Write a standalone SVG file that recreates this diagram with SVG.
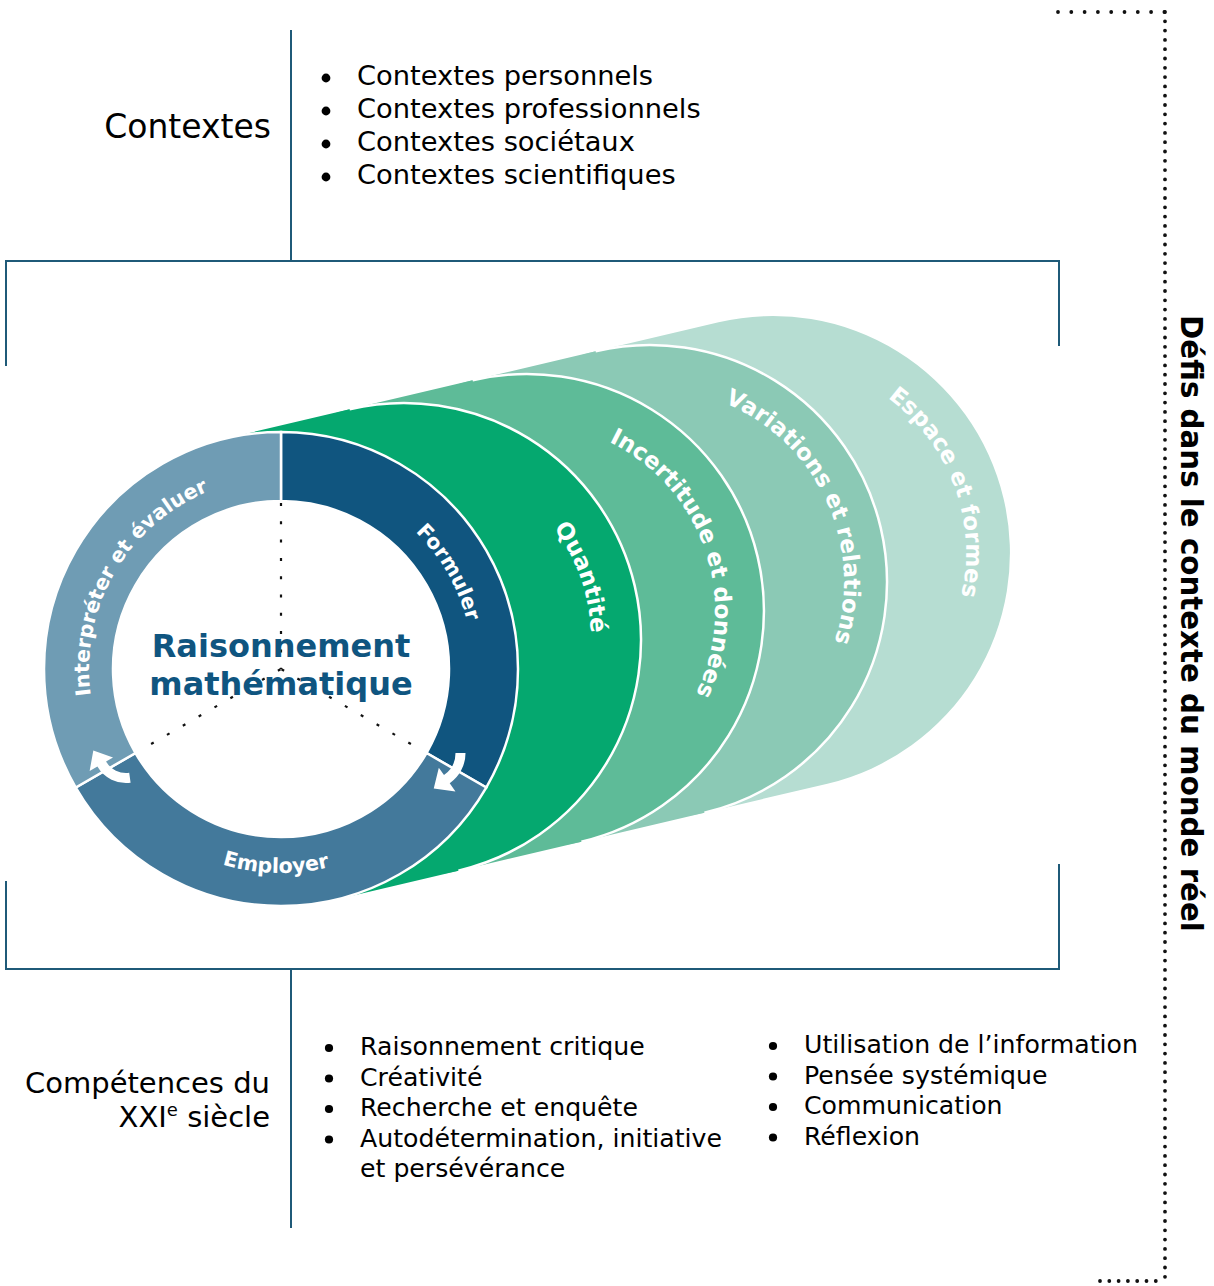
<svg xmlns="http://www.w3.org/2000/svg" width="1214" height="1286" viewBox="0 0 1214 1286">
<defs>
<style>
text{font-family:"DejaVu Sans","Liberation Sans",sans-serif;}
.frame{fill:none;stroke:#1F5A78;stroke-width:2;}
.hd{font-size:33px;fill:#000;}
.lt{font-size:27.3px;fill:#000;}
.cp{font-size:29px;fill:#000;}
.lb{font-size:25.2px;fill:#000;}
.bul{fill:#000;}
.side{font-size:29.3px;font-weight:bold;fill:#000;}
.ctr{font-size:32px;font-weight:bold;fill:#0F5580;text-anchor:middle;}
.rl{font-size:20.5px;font-weight:bold;fill:#fff;}
.ll{font-size:23px;font-weight:bold;fill:#fff;}
.seg{stroke:#fff;stroke-width:2.5;stroke-linejoin:miter;}
.edge{fill:none;stroke:#fff;stroke-width:2.5;}
.dots{fill:none;stroke:#111;stroke-width:2.2;stroke-dasharray:3 15.3;}
.dotb{fill:none;stroke:#111;stroke-width:3.8;stroke-linecap:round;}
.arrow{fill:#fff;}
</style>
<path id="tp-form" d="M 281 477 A 192 192 0 0 1 447.28 765"/>
<path id="tp-int" d="M 114.72 765 A 192 192 0 0 1 281 477"/>
<path id="tp-emp" d="M 104.33 771 A 204 204 0 0 0 457.67 771"/>
<path id="tp-q" d="M 373.14 455.56 A 187 187 0 0 1 496.08 802.76"/>
<path id="tp-i" d="M 497.59 425.31 A 188 188 0 0 1 618.14 775.43"/>
<path id="tp-v" d="M 600.77 394.35 A 194 194 0 0 1 760.44 741.5"/>
<path id="tp-e" d="M 738.49 363.11 A 193 193 0 0 1 870.37 719.64"/>
</defs>

<g id="connectors">
<path class="frame" d="M 291 30 V 261"/>
<path class="frame" d="M 6 366 V 261 H 1059 V 346"/>
<path class="frame" d="M 6 881 V 969 H 1059 V 864"/>
<path class="frame" d="M 291 969 V 1228"/>
<path class="dotb" stroke-dasharray="0 13.3" d="M 1058 12 H 1165"/>
<path class="dotb" stroke-dasharray="0 9.3" d="M 1165 12 V 1281"/>
<path class="dotb" stroke-dasharray="0 9.3" d="M 1100 1281 H 1165"/>
</g>

<g id="contextes">
<text class="hd" x="271" y="138" text-anchor="end">Contextes</text>
</g>
<g id="contextes-list">
<circle class="bul" cx="326" cy="78" r="4.4"/>
<circle class="bul" cx="326" cy="111" r="4.4"/>
<circle class="bul" cx="326" cy="144" r="4.4"/>
<circle class="bul" cx="326" cy="177" r="4.4"/>
<text class="lt" x="357" y="85">Contextes personnels</text>
<text class="lt" x="357" y="118">Contextes professionnels</text>
<text class="lt" x="357" y="151">Contextes sociétaux</text>
<text class="lt" x="357" y="184">Contextes scientifiques</text>
</g>

<g id="layer-espace">
<path fill="#B6DDD2" d="M 595.61 351.32 L 718.61 322.32 A 237 237 0 0 1 827.39 783.68 L 704.39 812.68 A 237 237 0 0 1 595.61 351.32 Z"/>
<text class="ll"><textPath href="#tp-e" startOffset="50%" text-anchor="middle">Espace et formes</textPath></text>
</g>
<g id="layer-variations">
<path fill="#8BC9B5" d="M 472.61 380.32 L 595.61 351.32 A 237 237 0 0 1 704.39 812.68 L 581.39 841.68 A 237 237 0 0 1 472.61 380.32 Z"/>
<path class="edge" d="M 595.61 351.32 A 237 237 0 0 1 704.39 812.68"/>
<text class="ll"><textPath href="#tp-v" startOffset="50%" text-anchor="middle">Variations et relations</textPath></text>
</g>
<g id="layer-incertitude">
<path fill="#5EBB98" d="M 349.61 409.32 L 472.61 380.32 A 237 237 0 0 1 581.39 841.68 L 458.39 870.68 A 237 237 0 0 1 349.61 409.32 Z"/>
<path class="edge" d="M 472.61 380.32 A 237 237 0 0 1 581.39 841.68"/>
<text class="ll"><textPath href="#tp-i" startOffset="50%" text-anchor="middle">Incertitude et données</textPath></text>
</g>
<g id="layer-quantite">
<path fill="#05A86F" d="M 226.61 438.32 L 349.61 409.32 A 237 237 0 0 1 458.39 870.68 L 335.39 899.68 A 237 237 0 0 1 226.61 438.32 Z"/>
<path class="edge" d="M 349.61 409.32 A 237 237 0 0 1 458.39 870.68"/>
<text class="ll"><textPath href="#tp-q" startOffset="50%" text-anchor="middle">Quantité</textPath></text>
</g>

<g id="ring">
<circle cx="281" cy="669" r="168" fill="#fff"/>
<g id="ring-formuler">
<path class="seg" fill="#10557F" d="M 281 432 A 237 237 0 0 1 486.25 787.5 L 426.49 753 A 168 168 0 0 0 281 501 Z"/>
<text class="rl"><textPath href="#tp-form" startOffset="50%" text-anchor="middle">Formuler</textPath></text>
</g>
<g id="ring-employer">
<path class="seg" fill="#43799B" d="M 486.25 787.5 A 237 237 0 0 1 75.75 787.5 L 135.51 753 A 168 168 0 0 0 426.49 753 Z"/>
<text class="rl"><textPath href="#tp-emp" startOffset="48.8%" text-anchor="middle">Employer</textPath></text>
</g>
<g id="ring-interpreter">
<path class="seg" fill="#6F9CB4" d="M 75.75 787.5 A 237 237 0 0 1 281 432 L 281 501 A 168 168 0 0 0 135.51 753 Z"/>
<text class="rl"><textPath href="#tp-int" startOffset="50%" text-anchor="middle">Interpréter et évaluer</textPath></text>
</g>
<g id="ring-arrows">
<path class="arrow" d="M 455.5 753 L 465.5 753 A 37 37 0 0 1 449.72 783.31 L 455.46 791.5 L 433.75 788.39 L 438.82 767.75 L 443.99 775.12 A 27 27 0 0 0 455.5 753 Z"/>
<path class="arrow" d="M 129.2 772.78 L 130.59 782.68 A 33 33 0 0 1 97.42 766.5 L 89.63 771 L 93.32 750.39 L 113.01 757.5 L 106.08 761.5 A 23 23 0 0 0 129.2 772.78 Z"/>
</g>
<g id="ring-dots">
<path class="dots" d="M 281 503 V 669"/>
<path class="dots" d="M 151.1 744 L 281 669"/>
<path class="dots" d="M 410.9 744 L 281 669"/>
</g>
<g id="center-title">
<text class="ctr" x="281" y="657">Raisonnement</text>
<text class="ctr" x="281" y="695">mathématique</text>
</g>
</g>

<g id="defis">
<text class="side" transform="translate(1181 315) rotate(90)">Défis dans le contexte du monde réel</text>
</g>

<g id="competences">
<text class="cp" x="270" y="1093" text-anchor="end">Compétences du</text>
<text class="cp" x="270" y="1127" text-anchor="end">XXI<tspan font-size="18" dy="-11">e</tspan><tspan dy="11"> siècle</tspan></text>
</g>
<g id="competences-list-1">
<circle class="bul" cx="329" cy="1048" r="4.1"/>
<circle class="bul" cx="329" cy="1078.5" r="4.1"/>
<circle class="bul" cx="329" cy="1109" r="4.1"/>
<circle class="bul" cx="329" cy="1139.5" r="4.1"/>
<text class="lb" x="360" y="1055">Raisonnement critique</text>
<text class="lb" x="360" y="1085.5">Créativité</text>
<text class="lb" x="360" y="1116">Recherche et enquête</text>
<text class="lb" x="360" y="1146.5">Autodétermination, initiative</text>
<text class="lb" x="360" y="1177">et persévérance</text>
</g>
<g id="competences-list-2">
<circle class="bul" cx="773" cy="1046" r="4.1"/>
<circle class="bul" cx="773" cy="1076.5" r="4.1"/>
<circle class="bul" cx="773" cy="1107" r="4.1"/>
<circle class="bul" cx="773" cy="1137.5" r="4.1"/>
<text class="lb" x="804" y="1053">Utilisation de l’information</text>
<text class="lb" x="804" y="1083.5">Pensée systémique</text>
<text class="lb" x="804" y="1114">Communication</text>
<text class="lb" x="804" y="1144.5">Réflexion</text>
</g>
</svg>
